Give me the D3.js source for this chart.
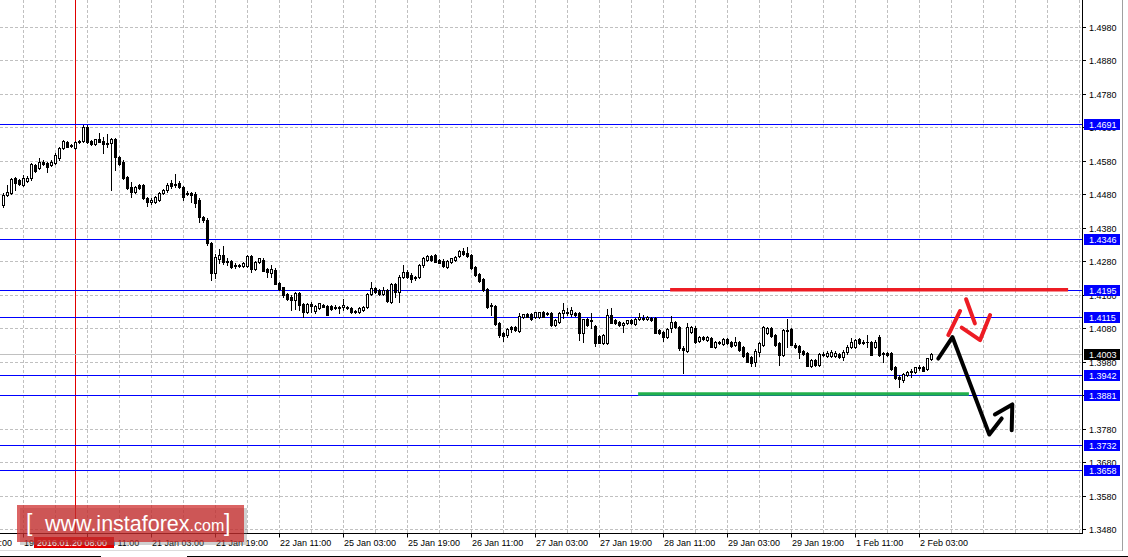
<!DOCTYPE html>
<html><head><meta charset="utf-8">
<script src="https://cdn.jsdelivr.net/npm/d3@7"></script>
<style>
html,body{margin:0;padding:0;background:#fff;overflow:hidden}
svg{display:block;font-family:"Liberation Sans",Arial,sans-serif}
</style></head><body>
<svg id="chart" width="1128" height="557"></svg>
<script>
// ---------- DATA (H1 candles, bar index 0..232) ----------
const opens = [
1.4448,1.4478,1.4484,1.4529,1.4523,1.4508,1.4520,1.4529,1.4568,1.4559,
1.4577,1.4574,1.4568,1.4574,1.4589,1.4619,1.4636,1.4627,1.4619,1.4636,
1.4639,1.4682,1.4639,1.4630,1.4645,1.4639,1.4633,1.4633,1.4645,1.4592,
1.4577,1.4532,1.4502,1.4487,1.4508,1.4508,1.4469,1.4457,1.4457,1.4463,
1.4484,1.4493,1.4514,1.4511,1.4514,1.4502,1.4484,1.4484,1.4481,1.4463,
1.4412,1.4403,1.4335,1.4245,1.4287,1.4299,1.4281,1.4281,1.4269,1.4266,
1.4266,1.4266,1.4296,1.4257,1.4278,1.4284,1.4257,1.4245,1.4254,1.4215,
1.4203,1.4182,1.4173,1.4164,1.4185,1.4152,1.4128,1.4152,1.4131,1.4140,
1.4149,1.4146,1.4146,1.4143,1.4140,1.4143,1.4143,1.4140,1.4131,1.4128,
1.4134,1.4143,1.4182,1.4200,1.4194,1.4182,1.4194,1.4158,1.4212,1.4188,
1.4233,1.4248,1.4239,1.4230,1.4233,1.4269,1.4284,1.4296,1.4299,1.4284,
1.4281,1.4263,1.4278,1.4284,1.4296,1.4311,1.4305,1.4299,1.4263,1.4242,
1.4227,1.4197,1.4149,1.4146,1.4096,1.4066,1.4060,1.4084,1.4084,1.4072,
1.4114,1.4123,1.4123,1.4114,1.4114,1.4129,1.4126,1.4126,1.4090,1.4099,
1.4126,1.4126,1.4123,1.4126,1.4126,1.4066,1.4108,1.4105,1.4087,1.4057,
1.4036,1.4036,1.4120,1.4105,1.4099,1.4090,1.4096,1.4105,1.4093,1.4108,
1.4108,1.4108,1.4111,1.4111,1.4075,1.4069,1.4054,1.4081,1.4099,1.4084,
1.4021,1.4012,1.4069,1.4081,1.4042,1.4054,1.4045,1.4051,1.4024,1.4036,
1.4033,1.4048,1.4039,1.4030,1.4039,1.4024,1.4006,1.3994,1.3979,1.4009,
1.4030,1.4066,1.4081,1.4060,1.4036,1.4000,1.4075,1.4078,1.4030,1.4027,
1.4012,1.4006,1.3967,1.3985,1.3970,1.4003,1.3997,1.3997,1.3997,1.4003,
1.3994,1.4009,1.4024,1.4024,1.4048,1.4039,1.4039,1.4039,1.4024,1.4054,
1.4006,1.4006,1.4006,1.3964,1.3934,1.3925,1.3940,1.3949,1.3949,1.3964,
1.3964,1.3958,1.3988];
const highs = [
1.4484,1.4508,1.4529,1.4532,1.4526,1.4538,1.4535,1.4574,1.4571,1.4589,
1.4583,1.4577,1.4583,1.4604,1.4622,1.4642,1.4639,1.4630,1.4639,1.4642,
1.4687,1.4687,1.4642,1.4645,1.4662,1.4651,1.4660,1.4648,1.4648,1.4595,
1.4583,1.4535,1.4517,1.4505,1.4511,1.4511,1.4472,1.4469,1.4475,1.4487,
1.4496,1.4514,1.4523,1.4541,1.4520,1.4505,1.4490,1.4487,1.4487,1.4469,
1.4415,1.4409,1.4338,1.4302,1.4317,1.4326,1.4290,1.4284,1.4275,1.4272,
1.4278,1.4299,1.4299,1.4281,1.4290,1.4290,1.4260,1.4269,1.4260,1.4218,
1.4203,1.4185,1.4179,1.4188,1.4188,1.4155,1.4155,1.4158,1.4149,1.4155,
1.4152,1.4149,1.4149,1.4149,1.4146,1.4167,1.4146,1.4143,1.4134,1.4143,
1.4146,1.4185,1.4218,1.4203,1.4197,1.4203,1.4197,1.4215,1.4215,1.4239,
1.4269,1.4254,1.4245,1.4236,1.4272,1.4293,1.4299,1.4299,1.4302,1.4287,
1.4287,1.4284,1.4290,1.4296,1.4314,1.4320,1.4323,1.4302,1.4266,1.4245,
1.4230,1.4200,1.4155,1.4149,1.4099,1.4069,1.4081,1.4087,1.4087,1.4126,
1.4123,1.4126,1.4126,1.4129,1.4129,1.4132,1.4129,1.4129,1.4108,1.4129,
1.4155,1.4140,1.4143,1.4129,1.4129,1.4108,1.4111,1.4126,1.4090,1.4060,
1.4063,1.4137,1.4140,1.4108,1.4102,1.4099,1.4105,1.4108,1.4111,1.4126,
1.4120,1.4117,1.4114,1.4114,1.4078,1.4072,1.4081,1.4117,1.4102,1.4087,
1.4027,1.4096,1.4087,1.4087,1.4057,1.4057,1.4057,1.4054,1.4042,1.4042,
1.4051,1.4051,1.4042,1.4054,1.4042,1.4027,1.4009,1.3997,1.4018,1.4039,
1.4087,1.4084,1.4084,1.4063,1.4039,1.4078,1.4108,1.4081,1.4036,1.4030,
1.4015,1.4009,1.3988,1.3988,1.4006,1.4009,1.4012,1.4015,1.4012,1.4006,
1.4015,1.4030,1.4051,1.4048,1.4051,1.4045,1.4060,1.4042,1.4045,1.4060,
1.4009,1.4009,1.4009,1.3967,1.3940,1.3946,1.3952,1.3958,1.3964,1.3970,
1.3967,1.3991,1.4006];
const lows = [
1.4442,1.4475,1.4481,1.4493,1.4508,1.4505,1.4517,1.4523,1.4547,1.4556,
1.4568,1.4547,1.4565,1.4571,1.4583,1.4616,1.4622,1.4622,1.4616,1.4633,
1.4636,1.4633,1.4627,1.4627,1.4636,1.4604,1.4622,1.4493,1.4553,1.4568,
1.4526,1.4496,1.4472,1.4484,1.4496,1.4466,1.4445,1.4451,1.4454,1.4460,
1.4481,1.4487,1.4499,1.4502,1.4499,1.4463,1.4478,1.4457,1.4442,1.4397,
1.4397,1.4329,1.4224,1.4230,1.4275,1.4272,1.4269,1.4260,1.4260,1.4263,
1.4263,1.4263,1.4248,1.4254,1.4275,1.4251,1.4233,1.4233,1.4212,1.4194,
1.4173,1.4164,1.4134,1.4137,1.4134,1.4113,1.4125,1.4128,1.4125,1.4137,
1.4143,1.4119,1.4134,1.4137,1.4125,1.4134,1.4137,1.4125,1.4125,1.4125,
1.4131,1.4140,1.4179,1.4185,1.4179,1.4179,1.4158,1.4155,1.4173,1.4158,
1.4230,1.4230,1.4218,1.4224,1.4230,1.4263,1.4281,1.4281,1.4278,1.4275,
1.4263,1.4260,1.4275,1.4281,1.4293,1.4299,1.4293,1.4257,1.4236,1.4218,
1.4191,1.4140,1.4119,1.4090,1.4054,1.4042,1.4054,1.4069,1.4072,1.4069,
1.4111,1.4114,1.4105,1.4111,1.4111,1.4114,1.4120,1.4087,1.4087,1.4096,
1.4111,1.4120,1.4117,1.4117,1.4045,1.4039,1.4087,1.4081,1.4027,1.4036,
1.4033,1.4033,1.4096,1.4093,1.4087,1.4069,1.4093,1.4093,1.4090,1.4105,
1.4105,1.4105,1.4102,1.4066,1.4063,1.4042,1.4051,1.4069,1.4081,1.4015,
1.3946,1.4009,1.4066,1.4036,1.4039,1.4045,1.4042,1.4024,1.4021,1.4033,
1.4030,1.4033,1.4024,1.4027,1.4012,1.3994,1.3979,1.3967,1.3967,1.3997,
1.4027,1.4063,1.4054,1.4027,1.3970,1.3997,1.4024,1.4030,1.4021,1.3991,
1.4000,1.3967,1.3964,1.3967,1.3967,1.3997,1.3994,1.3994,1.3994,1.3991,
1.3985,1.4003,1.4021,1.4021,1.4033,1.4033,1.4024,1.4000,1.4021,1.3997,
1.3979,1.3997,1.3955,1.3928,1.3904,1.3919,1.3937,1.3934,1.3946,1.3955,
1.3952,1.3955,1.3985];
const closes = [
1.4478,1.4487,1.4526,1.4514,1.4511,1.4529,1.4529,1.4571,1.4550,1.4577,
1.4571,1.4562,1.4577,1.4598,1.4619,1.4639,1.4622,1.4625,1.4636,1.4639,
1.4682,1.4636,1.4630,1.4645,1.4636,1.4630,1.4630,1.4645,1.4592,1.4571,
1.4529,1.4499,1.4487,1.4502,1.4499,1.4469,1.4457,1.4463,1.4472,1.4484,
1.4493,1.4508,1.4505,1.4508,1.4502,1.4472,1.4481,1.4478,1.4454,1.4412,
1.4403,1.4335,1.4245,1.4293,1.4299,1.4278,1.4278,1.4263,1.4266,1.4269,
1.4275,1.4296,1.4257,1.4278,1.4290,1.4251,1.4248,1.4257,1.4212,1.4197,
1.4179,1.4167,1.4164,1.4185,1.4149,1.4128,1.4152,1.4146,1.4146,1.4155,
1.4143,1.4119,1.4137,1.4140,1.4143,1.4149,1.4140,1.4128,1.4128,1.4140,
1.4143,1.4182,1.4200,1.4188,1.4182,1.4194,1.4161,1.4212,1.4188,1.4233,
1.4248,1.4233,1.4227,1.4233,1.4269,1.4290,1.4296,1.4284,1.4278,1.4275,
1.4266,1.4281,1.4290,1.4293,1.4311,1.4302,1.4296,1.4260,1.4239,1.4221,
1.4194,1.4143,1.4146,1.4093,1.4060,1.4057,1.4078,1.4078,1.4075,1.4117,
1.4123,1.4114,1.4108,1.4129,1.4129,1.4114,1.4123,1.4090,1.4105,1.4126,
1.4135,1.4129,1.4135,1.4120,1.4066,1.4108,1.4090,1.4102,1.4036,1.4036,
1.4060,1.4120,1.4096,1.4096,1.4090,1.4096,1.4105,1.4096,1.4108,1.4114,
1.4111,1.4114,1.4105,1.4066,1.4066,1.4054,1.4078,1.4099,1.4084,1.4021,
1.4015,1.4084,1.4084,1.4039,1.4054,1.4048,1.4054,1.4024,1.4039,1.4039,
1.4048,1.4036,1.4027,1.4039,1.4015,1.3997,1.3979,1.3976,1.4012,1.4036,
1.4084,1.4081,1.4057,1.4030,1.4000,1.4075,1.4072,1.4030,1.4024,1.4009,
1.4003,1.3967,1.3985,1.3970,1.4003,1.4000,1.4006,1.4009,1.4006,1.3994,
1.4009,1.4024,1.4039,1.4045,1.4036,1.4036,1.4040,1.4000,1.4039,1.4000,
1.4003,1.4000,1.3958,1.3931,1.3928,1.3943,1.3949,1.3952,1.3964,1.3961,
1.3952,1.3991,1.4003];

const priceTicks = [1.3480,1.3580,1.3680,1.3780,1.3880,1.3980,1.4080,1.4180,1.4280,1.4380,1.4480,1.4580,1.4680,1.4780,1.4880,1.4980];
const timeTickIndex = [-11,5,21,37,53,69,85,101,117,133,149,165,181,197,213,229];
const timeTickLabels = ["19 Jan 03:00","19 Jan 19:00","20 Jan 11:00","21 Jan 03:00","21 Jan 19:00","22 Jan 11:00","25 Jan 03:00","25 Jan 19:00","26 Jan 11:00","27 Jan 03:00","27 Jan 19:00","28 Jan 11:00","29 Jan 03:00","29 Jan 19:00","1 Feb 11:00","2 Feb 03:00"];
const levelValues = [1.4691,1.4346,1.4195,1.4115,1.3942,1.3881,1.3732,1.3658];
const currentPrice = 1.4003;
const crosshairIndex = 18.1;
const crosshairLabel = "2016.01.20 08:00";
// hand-drawn annotations, in [bar index, price]
const resistanceSeg = [[166.7,1.4195],[266.2,1.4195]];
const supportSeg = [[158.7,1.3884],[241.4,1.3884]];
const blackPath = [[233.75,1.3990],[237.3,1.4054],[246.5,1.3763],[249.6,1.3811]];
const blackHead = [[247.9,1.3823],[252.25,1.3853],[252.1,1.3776]];
const redA = [[236.25,1.4060],[239.2,1.4132]];
const redB = [[240.7,1.4167],[242.9,1.4095]];
const redC = [[239.6,1.4082],[244.2,1.4045],[246.7,1.4120]];

// ---------- SCALES ----------
const svg = d3.select("#chart");
const plotRight = 1082, plotBottom = 533.5;
const x = d3.scaleLinear().domain([0, 1]).range([3.3, 7.3]);
const y = d3.scaleLinear().domain([1.3480, 1.4980]).range([529.3, 27]);
const crisp = v => Math.round(v) + 0.5;

const plot = svg.append("g");
plot.append("rect").attr("x",0).attr("y",0).attr("width",plotRight).attr("height",plotBottom).attr("fill","#fff");

// grid
const gridIdx = d3.range(-3, 270, 8);
plot.selectAll(".vg").data(gridIdx).join("line")
  .attr("x1", d => Math.floor(x(d)) + 0.5).attr("x2", d => Math.floor(x(d)) + 0.5)
  .attr("y1", 0).attr("y2", plotBottom)
  .attr("stroke", "#c0c0c0").attr("stroke-dasharray", "3,2");
plot.selectAll(".hg").data(priceTicks).join("line")
  .attr("x1", 0).attr("x2", plotRight - 1)
  .attr("y1", d => crisp(y(d))).attr("y2", d => crisp(y(d)))
  .attr("stroke", "#c0c0c0").attr("stroke-dasharray", "3,2");

// crosshair
plot.append("line").attr("x1", Math.floor(x(crosshairIndex))+0.5).attr("x2", Math.floor(x(crosshairIndex))+0.5)
  .attr("y1", 0).attr("y2", plotBottom).attr("stroke", "#e00000");

// current price line
plot.append("line").attr("x1",0).attr("x2",plotRight).attr("y1",crisp(y(currentPrice))).attr("y2",crisp(y(currentPrice)))
  .attr("stroke","#c0c0c0");

// level lines
plot.selectAll(".lvl").data(levelValues).join("line")
  .attr("x1", 0).attr("x2", plotRight)
  .attr("y1", d => crisp(y(d))).attr("y2", d => crisp(y(d)))
  .attr("stroke", "#0000ff");

// candles
const candles = d3.range(opens.length).map(i => ({i, o: opens[i], h: highs[i], l: lows[i], c: closes[i]}));
const cg = plot.append("g");
candles.forEach(d => {
  const px = Math.floor(x(d.i));
  const yh = Math.round(y(d.h)), yl = Math.round(y(d.l));
  const yo = Math.round(y(d.o)), yc = Math.round(y(d.c));
  cg.append("line").attr("x1", px+0.5).attr("x2", px+0.5).attr("y1", yh).attr("y2", yl+1).attr("stroke", "#000");
  const top = Math.min(yo, yc), bot = Math.max(yo, yc);
  if (bot - top < 1) {
    cg.append("rect").attr("x", px-1).attr("y", top).attr("width", 3).attr("height", 1).attr("fill", "#000");
  } else if (d.c > d.o) {
    cg.append("rect").attr("x", px-0.5).attr("y", top+0.5).attr("width", 2).attr("height", bot-top)
      .attr("fill", "#fff").attr("stroke", "#000").attr("stroke-width", 1);
  } else {
    cg.append("rect").attr("x", px-1).attr("y", top).attr("width", 3).attr("height", bot-top+1).attr("fill", "#000");
  }
});

// annotations
const line = d3.line().x(d => x(d[0])).y(d => y(d[1]));
plot.append("path").attr("d", line(resistanceSeg)).attr("stroke", "#ed1c24").attr("stroke-width", 3.5).attr("fill","none");
plot.append("path").attr("d", line(supportSeg)).attr("stroke", "#22b14c").attr("stroke-width", 3.5).attr("fill","none");
[[blackPath,"#000"],[blackHead,"#000"],[redA,"#ed1c24"],[redB,"#ed1c24"],[redC,"#ed1c24"]].forEach(([pts,col]) => {
  plot.append("path").attr("d", line(pts)).attr("stroke", col).attr("stroke-width", 4)
    .attr("fill","none").attr("stroke-linecap","round").attr("stroke-linejoin","round");
});

// ---------- AXES ----------
const ax = svg.append("g");
ax.append("rect").attr("x", plotRight).attr("y", 0).attr("width", 1128-plotRight).attr("height", 557).attr("fill", "#fff");
ax.append("rect").attr("x", 0).attr("y", plotBottom).attr("width", plotRight).attr("height", 557-plotBottom).attr("fill", "#fff");
ax.append("line").attr("x1", plotRight+0.5).attr("x2", plotRight+0.5).attr("y1", 0).attr("y2", plotBottom+0.5).attr("stroke", "#000");
ax.append("line").attr("x1", 0).attr("x2", plotRight+0.5).attr("y1", plotBottom).attr("y2", plotBottom).attr("stroke", "#000");

// right price axis
ax.selectAll(".pt").data(priceTicks).join("line")
  .attr("x1", plotRight+1).attr("x2", plotRight+4)
  .attr("y1", d => crisp(y(d))).attr("y2", d => crisp(y(d))).attr("stroke", "#000");
ax.selectAll(".pl").data(priceTicks).join("text")
  .attr("x", 1089).attr("y", d => Math.round(y(d)) + 4)
  .attr("font-size", "9px").attr("fill", "#000").text(d => d.toFixed(4));

// level price boxes
const boxes = levelValues.map(v => ({v, col: "#0000ff"})).concat([{v: currentPrice, col: "#000"}]);
boxes.forEach(b => {
  const yc = Math.round(y(b.v));
  ax.append("rect").attr("x", 1084).attr("y", yc - 5).attr("width", 36).attr("height", 11).attr("fill", b.col);
  ax.append("text").attr("x", 1089).attr("y", yc + 4).attr("font-size", "9px").attr("fill", "#fff").text(b.v.toFixed(4));
});

// bottom time axis
ax.selectAll(".tt").data(timeTickIndex).join("line")
  .attr("x1", d => Math.floor(x(d))+0.5).attr("x2", d => Math.floor(x(d))+0.5)
  .attr("y1", plotBottom).attr("y2", plotBottom+4).attr("stroke", "#000");
ax.selectAll(".tl").data(timeTickIndex).join("text")
  .attr("x", d => Math.floor(x(d)) + 1).attr("y", 546)
  .attr("font-size", "9px").attr("fill", "#000").text((d, k) => timeTickLabels[k]);

// crosshair time label
const chx = Math.floor(x(crosshairIndex));
ax.append("rect").attr("x", chx - 41).attr("y", 537).attr("width", 80).attr("height", 11).attr("fill", "#e00000");
ax.append("text").attr("x", chx - 38).attr("y", 546).attr("font-size", "9px").attr("fill", "#fff").text(crosshairLabel);

// window frame bits
ax.append("line").attr("x1", 1122.5).attr("x2", 1122.5).attr("y1", 0).attr("y2", 551).attr("stroke", "#a0a0a0");
ax.append("line").attr("x1", 0).attr("x2", 1122).attr("y1", 550.5).attr("y2", 550.5).attr("stroke", "#dcdcdc");
ax.append("line").attr("x1", 0).attr("x2", 101).attr("y1", 556.5).attr("y2", 556.5).attr("stroke", "#000");
ax.append("line").attr("x1", 187).attr("x2", 1128).attr("y1", 556.5).attr("y2", 556.5).attr("stroke", "#000");

// ---------- WATERMARK ----------
const wm = svg.append("g");
wm.append("rect").attr("x", 20).attr("y", 508).attr("width", 227).attr("height", 37).attr("fill", "#777").attr("opacity", 0.35);
wm.append("rect").attr("x", 17).attr("y", 505).attr("width", 227).attr("height", 37).attr("fill", "#cc2222").attr("opacity", 0.7);
wm.append("text").attr("x", 26).attr("y", 531).attr("font-size", "23px").attr("fill", "#fff").text("[");
const wt = wm.append("text").attr("x", 45).attr("y", 531).attr("fill", "#fff");
wt.append("tspan").attr("font-size", "21.5px").text("www.instaforex");
wt.append("tspan").attr("font-size", "16px").text(".com");
wm.append("text").attr("x", 224).attr("y", 531).attr("font-size", "23px").attr("fill", "#fff").text("]");
</script>
</body></html>
